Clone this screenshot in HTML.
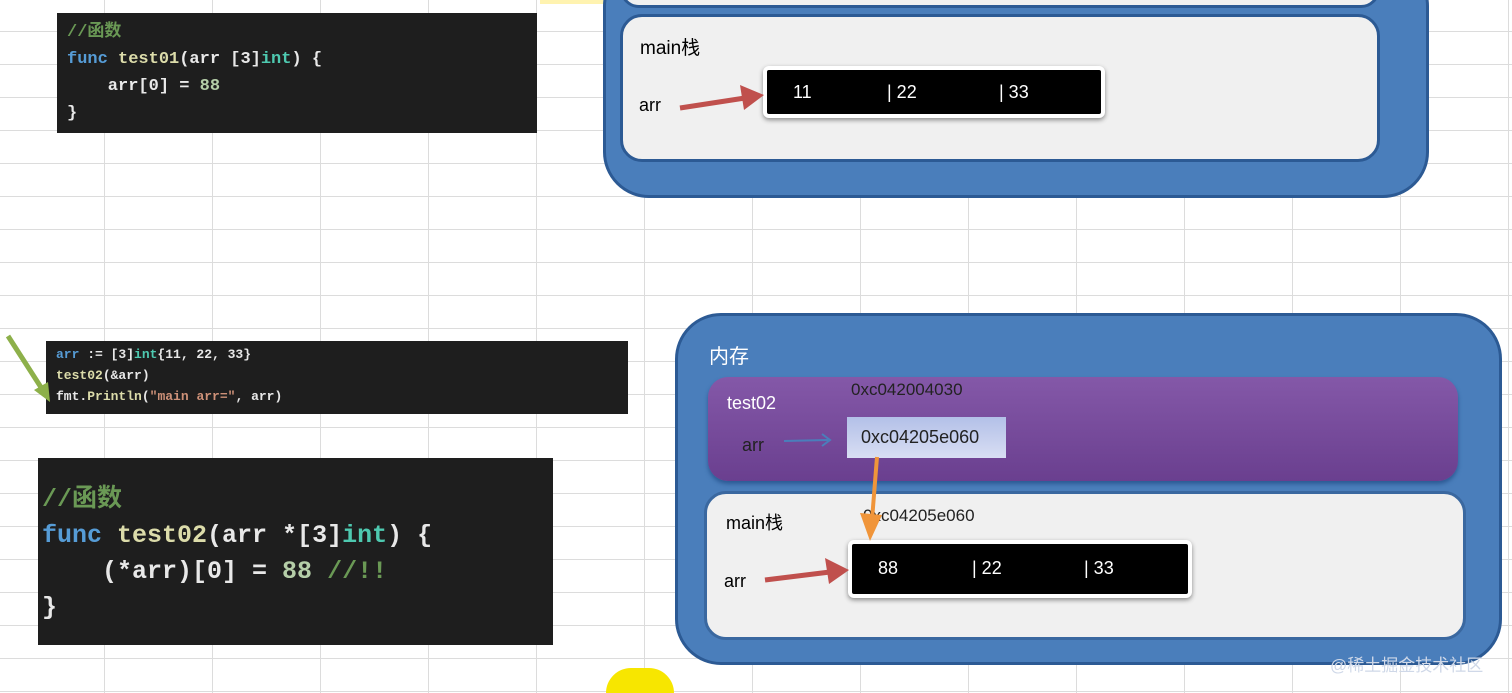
<!DOCTYPE html>
<html style="width:1512px;height:693px;overflow:hidden"><head><meta charset="utf-8"><style>
body{margin:0;width:1512px;height:693px;overflow:hidden;position:relative;background:#fff;font-family:"Liberation Sans","Noto Sans CJK SC",sans-serif}
.grid{position:absolute;inset:0;background-image:linear-gradient(to right,#dcdcdc 1px,transparent 1px),linear-gradient(to bottom,#dcdcdc 1px,transparent 1px);background-size:108px 33px;background-position:104px 31px}
.abs{position:absolute}
.code{position:absolute;background:#1e1e1e;font-family:"Liberation Mono","Noto Sans CJK SC",monospace;color:#e8e8e8;font-weight:bold;white-space:pre}
.cm{color:#6a9955}.kw{color:#569cd6}.fn{color:#dcdcaa}.ty{color:#4ec9b0}.nu{color:#b5cea8}.st{color:#ce9178}
.blue{position:absolute;background:#4a7ebb;border:3px solid #2c5a94;border-radius:46px;box-sizing:border-box}
.panel{position:absolute;background:#f0f0f0;border:3px solid #2c5a94;border-radius:22px;box-sizing:border-box}
.arr{position:absolute;background:#000;color:#fff;border:4px solid #fff;border-radius:6px;box-shadow:0 2px 5px #888;font-size:18px}
</style></head><body>
<div class="grid"></div>
<div class="abs" style="left:540px;top:0;width:70px;height:4px;background:#fff3b0"></div>

<div class="code" style="left:57px;top:13px;width:480px;height:120px;font-size:17px;line-height:27px;padding:6px 0 0 10px;box-sizing:border-box"><span class="cm">//函数</span>
<span class="kw">func</span> <span class="fn">test01</span>(arr [3]<span class="ty">int</span>) {
    arr[0] = <span class="nu">88</span>
}</div>

<div class="code" style="left:46px;top:341px;width:582px;height:73px;font-size:13px;line-height:21px;padding:3px 0 0 10px;box-sizing:border-box"><span class="kw">arr</span> := [3]<span class="ty">int</span>{11, 22, 33}
<span class="fn">test02</span>(&amp;arr)
fmt.<span class="fn">Println</span>(<span class="st">"main arr="</span>, arr)</div>
<svg class="abs" style="left:0;top:330px" width="60" height="80"><line x1="8" y1="6" x2="44" y2="62" stroke="#8db04a" stroke-width="5"/><polygon points="50,72 34,60 48,52" fill="#8db04a"/></svg>

<div class="code" style="left:38px;top:458px;width:515px;height:187px;font-size:25px;line-height:36px;padding:24px 0 0 4px;box-sizing:border-box"><span class="cm">//函数</span>
<span class="kw">func</span> <span class="fn">test02</span>(arr *[3]<span class="ty">int</span>) {
    (*arr)[0] = <span class="nu">88</span> <span class="cm">//!!</span>
}</div>

<!-- top right -->
<div class="blue" style="left:603px;top:-40px;width:826px;height:238px"></div>
<div class="panel" style="left:620px;top:-30px;width:760px;height:38px"></div>
<div class="panel" style="left:620px;top:14px;width:760px;height:148px"></div>
<div class="abs" style="left:640px;top:33px;font-size:19px">main栈</div>
<div class="abs" style="left:639px;top:95px;font-size:18px">arr</div>
<div class="arr" style="left:763px;top:66px;width:334px;height:44px"><span class="abs" style="left:26px;top:12px">11</span><span class="abs" style="left:120px;top:12px">| 22</span><span class="abs" style="left:232px;top:12px">| 33</span></div>
<svg class="abs" style="left:670px;top:80px" width="100" height="40"><line x1="10" y1="28" x2="75" y2="18" stroke="#c0504d" stroke-width="5"/><polygon points="94,15 70,5 74,30" fill="#c0504d"/></svg>

<!-- bottom right -->
<div class="blue" style="left:675px;top:313px;width:827px;height:352px"></div>
<div class="abs" style="left:709px;top:340px;font-size:20px;color:#fff">内存</div>
<div class="abs" style="left:708px;top:377px;width:750px;height:104px;border-radius:20px;background:linear-gradient(#8458a8,#6a3f8f);box-shadow:0 3px 4px #2c5a94"></div>
<div class="abs" style="left:727px;top:393px;font-size:18px;color:#fff">test02</div>
<div class="abs" style="left:851px;top:380px;font-size:17px;color:#222">0xc042004030</div>
<div class="abs" style="left:742px;top:435px;font-size:18px;color:#222">arr</div>
<svg class="abs" style="left:780px;top:430px" width="60" height="20"><line x1="4" y1="11" x2="48" y2="10" stroke="#4a7ebb" stroke-width="2"/><polyline points="42,4 50,10 42,16" fill="none" stroke="#4a7ebb" stroke-width="2"/></svg>
<div class="abs" style="left:847px;top:417px;width:159px;height:41px;background:linear-gradient(#b3c0e8,#d8def3);font-size:18px;color:#222;line-height:41px;text-indent:14px">0xc04205e060</div>
<div class="panel" style="left:704px;top:491px;width:762px;height:149px;border-color:#3a68a0"></div>
<div class="abs" style="left:726px;top:509px;font-size:18px">main栈</div>
<div class="abs" style="left:863px;top:506px;font-size:17px;color:#222">0xc04205e060</div>
<div class="abs" style="left:724px;top:571px;font-size:18px">arr</div>
<div class="arr" style="left:848px;top:540px;width:336px;height:50px"><span class="abs" style="left:26px;top:14px">88</span><span class="abs" style="left:120px;top:14px">| 22</span><span class="abs" style="left:232px;top:14px">| 33</span></div>
<svg class="abs" style="left:755px;top:550px" width="100" height="40"><line x1="10" y1="30" x2="75" y2="22" stroke="#c0504d" stroke-width="5"/><polygon points="94,20 70,8 74,34" fill="#c0504d"/></svg>
<svg class="abs" style="left:850px;top:455px" width="40" height="90"><line x1="27" y1="2" x2="22" y2="65" stroke="#f0953a" stroke-width="4"/><polygon points="20,86 10,58 32,60" fill="#f0953a"/></svg>
<div class="abs" style="left:1330px;top:651px;font-size:17px;color:#cfd8e8">@稀土掘金技术社区</div>
<div class="abs" style="left:606px;top:668px;width:68px;height:25px;border-radius:34px 34px 0 0;background:#f7e600"></div>
</body></html>
